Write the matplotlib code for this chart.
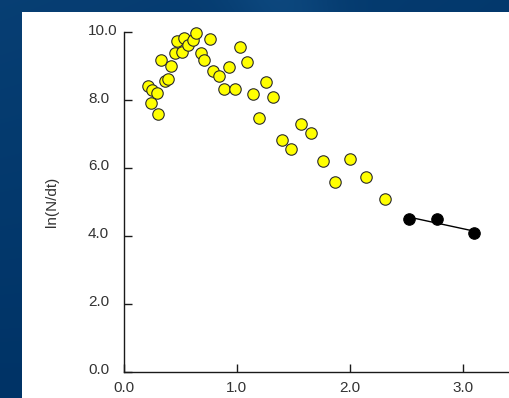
import matplotlib
matplotlib.use('Agg')
import matplotlib.pyplot as plt
import matplotlib.transforms as mtransforms
from matplotlib.patches import Rectangle
import numpy as np

plt.rcParams['font.family'] = ['Liberation Sans', 'DejaVu Sans']

# ---- data ----
x_yellow = [0.21, 0.25, 0.29, 0.24, 0.30, 0.33, 0.36, 0.39, 0.42, 0.45,
            0.47, 0.51, 0.53, 0.57, 0.61, 0.64, 0.68, 0.71, 0.76, 0.79,
            0.84, 0.93, 0.89, 0.98, 1.03, 1.09, 1.14, 1.20, 1.26, 1.32,
            1.40, 1.48, 1.57, 1.66, 1.76, 1.87, 2.00, 2.14, 2.31]
y_yellow = [8.42, 8.30, 8.21, 7.91, 7.60, 9.17, 8.55, 8.63, 9.02, 9.39,
            9.75, 9.42, 9.83, 9.63, 9.76, 9.98, 9.40, 9.17, 9.80, 8.86,
            8.72, 8.97, 8.33, 8.33, 9.56, 9.11, 8.19, 7.48, 8.53, 8.09,
            6.83, 6.55, 7.29, 7.03, 6.22, 5.58, 6.26, 5.72, 5.08]
x_black = [2.52, 2.77, 3.10]
y_black = [4.49, 4.49, 4.09]

x_ticks = [0, 1, 2, 3]
x_ticklabels = ['0.0', '1.0', '2.0', '3.0']
y_ticks = [0, 2, 4, 6, 8, 10]
y_ticklabels = ['0.0', '2.0', '4.0', '6.0', '8.0', '10.0']
y_title = 'ln(N/dt)'

W, H = 510, 398
fig = plt.figure(figsize=(W / 100, H / 100), dpi=100)

# ---- blue background with white panel ----
bg = fig.add_axes([0, 0, 1, 1], zorder=-10)
yy, xx = np.mgrid[0:1:H * 1j, 0:1:W * 1j]
base = np.array([0.0, 0.20, 0.40])
light = np.array([0.08, 0.33, 0.55])
t = np.clip(0.35 * (1 - yy) * (1 - 0.5 * xx)
            + 0.35 * np.exp(-((xx - yy * 0.3 - 0.55) ** 2) / 0.01) * (1 - yy), 0, 1)
img = base[None, None, :] * (1 - t[..., None]) + light[None, None, :] * t[..., None]
bg.imshow(img, extent=[0, 1, 0, 1], aspect='auto', origin='upper')
bg.add_patch(Rectangle((22 / W, 0), (W - 22) / W, (H - 12) / H,
                       transform=bg.transAxes, facecolor='white', edgecolor='none'))
bg.set_xlim(0, 1)
bg.set_ylim(0, 1)
bg.axis('off')

# ---- main axes ----
x0, x_right = 124, W
y_bottom, y_top = 371.5, 32.3
ax = fig.add_axes([x0 / W, (H - y_bottom) / H, (x_right - x0) / W, (y_bottom - y_top) / H])
ax.set_facecolor('none')
px_per_x = 112.9
ax.set_xlim(0, (x_right - x0) / px_per_x)
ax.set_ylim(0, 10)

for s in ['top', 'right']:
    ax.spines[s].set_visible(False)
for s in ['left', 'bottom']:
    ax.spines[s].set_color('#1a1a1a')
    ax.spines[s].set_linewidth(1.0)

ax.scatter(x_yellow, y_yellow, s=68, facecolor='#ffff00', edgecolor='#2b2b2b',
           linewidth=0.8, zorder=3, clip_on=False)
ax.scatter(x_black, y_black, s=68, facecolor='black', edgecolor='black',
           linewidth=0.8, zorder=4, clip_on=False)
coef = np.polyfit(x_black, y_black, 1)
xs = np.array([min(x_black), max(x_black)])
ax.plot(xs, np.polyval(coef, xs), color='black', lw=1.0, zorder=3)

ax.set_xticks(x_ticks, x_ticklabels)
ax.set_yticks(y_ticks, y_ticklabels)
ax.tick_params(direction='in', length=5.8, width=1.0, colors='#1a1a1a',
               labelcolor='#333333', labelsize=11)
ax.tick_params(axis='x', pad=7)
ax.tick_params(axis='y', pad=26)

off = mtransforms.ScaledTranslation(0, 3 / 100, fig.dpi_scale_trans)
for lab in ax.get_yticklabels():
    lab.set_horizontalalignment('left')
    lab.set_transform(lab.get_transform() + off)

ax.set_ylabel(y_title, fontsize=11, color='#333333')
ax.yaxis.label.set_va('center')
ax.yaxis.set_label_coords((52 - x0) / (x_right - x0), 0.5)

fig.savefig('out.png', dpi=100)
